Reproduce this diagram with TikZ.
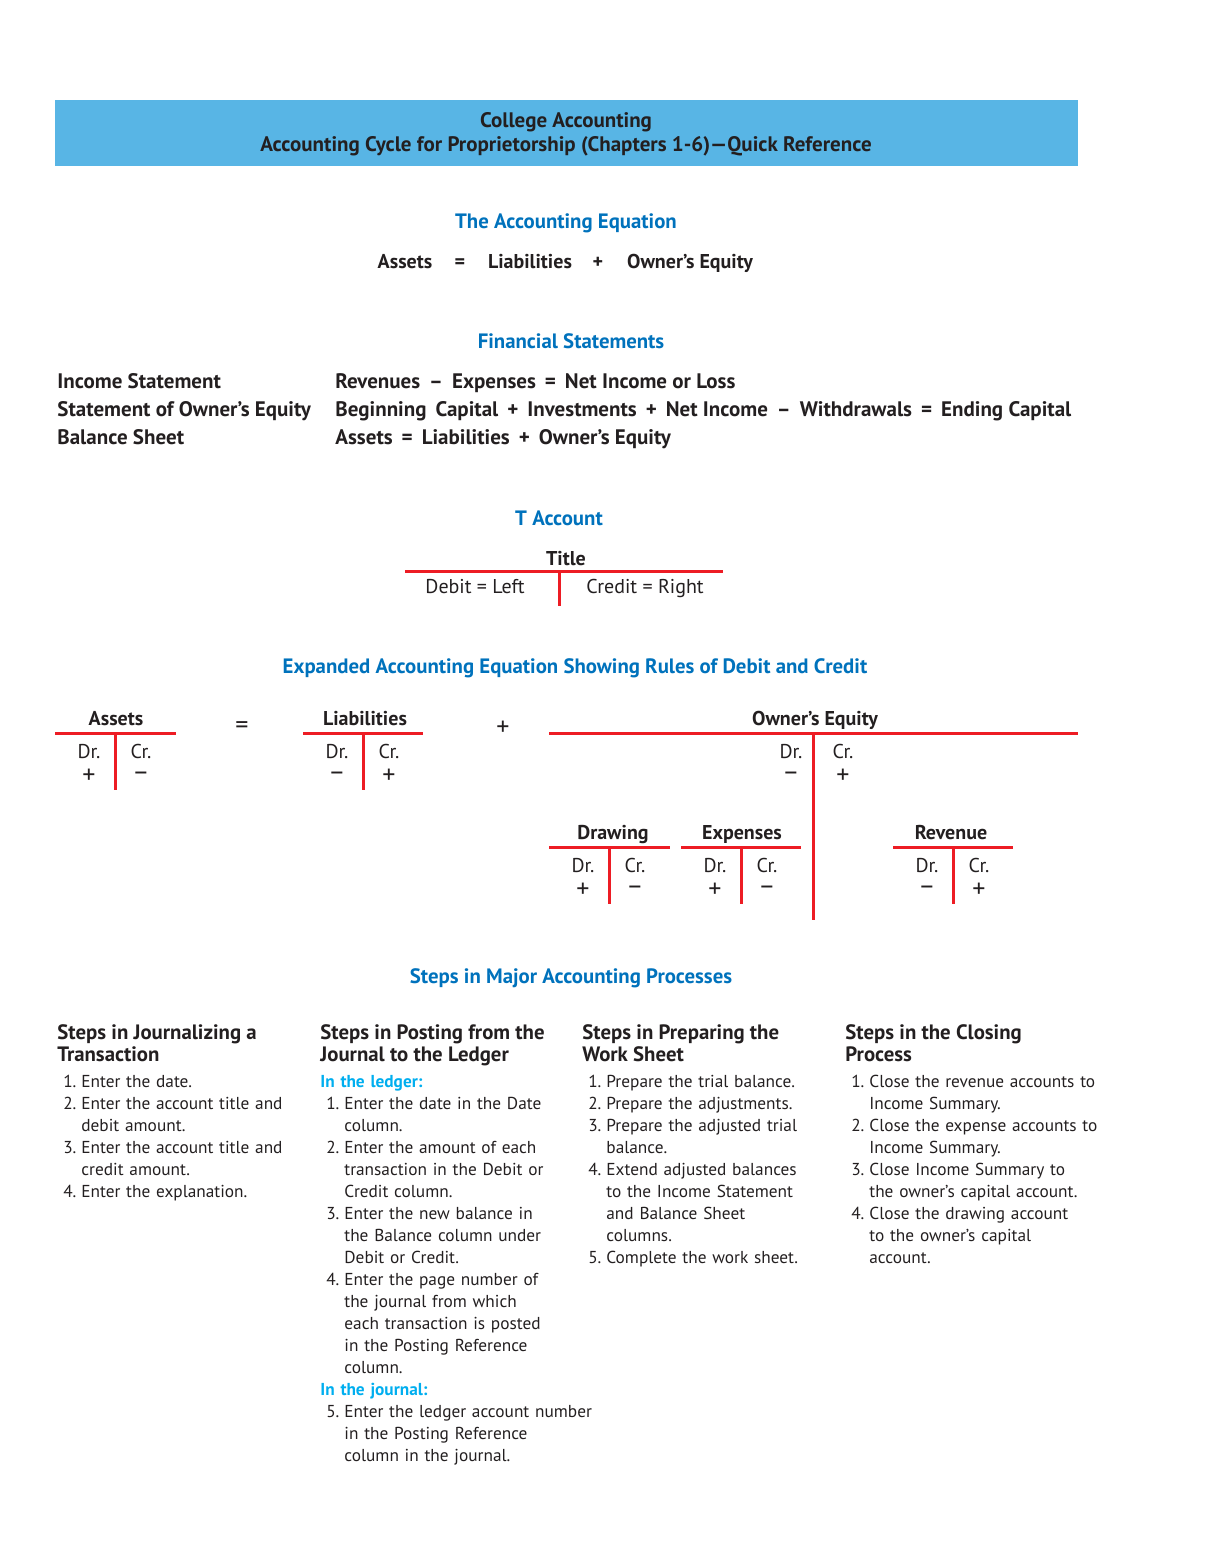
\documentclass[tikz,border=0pt]{standalone}
\usepackage{fontspec}
\setmainfont{PT Sans}
\usepackage{tikz}
\usepackage{xcolor}

\definecolor{bannerblue}{RGB}{88,181,229}
\definecolor{headblue}{RGB}{0,114,188}
\definecolor{ledgercyan}{RGB}{0,174,239}
\definecolor{tred}{RGB}{237,28,36}
\definecolor{ink}{RGB}{35,31,32}

% one numbered step, hanging indent for the wrapped lines
\newcommand{\stepitem}[2]{\hangindent=12pt\hangafter=1\noindent\hbox to 9.5pt{\hfil#1}\hspace{2.5pt}#2\par}
\newcommand{\stepnote}[1]{\noindent{\bfseries\color{ledgercyan}#1}\par}
% operator with space round it
\newcommand{\fop}[1]{\hspace{4.5pt}#1\hspace{4.5pt}}

\begin{document}
\begin{tikzpicture}[
    x=0.5pt, y=-0.5pt,
    every node/.style={inner sep=0pt, text=ink},
    banner/.style={font=\fontsize{10.5}{12}\selectfont\bfseries, anchor=base},
    bluehead/.style={font=\fontsize{10.4}{12}\selectfont\bfseries, text=headblue, anchor=base},
    eqn/.style={font=\fontsize{10}{12}\selectfont\bfseries, anchor=base},
    rowlabel/.style={font=\fontsize{10.5}{12}\selectfont\bfseries, anchor=base west},
    ttitle/.style={font=\fontsize{10}{12}\selectfont\bfseries, anchor=base},
    tside/.style={font=\fontsize{10}{12}\selectfont, anchor=base},
    tsign/.style={font=\fontsize{13}{14}\selectfont},
    tline/.style={draw=tred, line width=1.5pt},
    stephead/.style={font=\fontsize{10.4}{11}\selectfont\bfseries, anchor=base west, align=left},
    steplist/.style={font=\fontsize{8.65}{11}\selectfont, anchor=base west, text width=170pt},
]
\useasboundingbox (0,0) rectangle (1224,1566);

% Banner
\fill[bannerblue] (55,100) rectangle (1078,166);
\node[banner] (bannerA) at (566,128) {College Accounting};
\node[banner] (bannerB) at (566,152) {Accounting Cycle for Proprietorship (Chapters 1-6)—Quick Reference};

% The accounting equation
\node[bluehead] (eqhead) at (566,229) {The Accounting Equation};
\node[eqn] (eqA) at (405,269) {Assets};
\node[eqn] (eqeq) at (460,269) {=};
\node[eqn] (eqL) at (530,269) {Liabilities};
\node[eqn] (eqplus) at (598,269) {+};
\node[eqn] (eqOE) at (690,269) {Owner’s Equity};

% Financial statements
\node[bluehead] (fshead) at (571,349) {Financial Statements};
\node[rowlabel] (isL) at (57,389) {Income Statement};
\node[rowlabel] (oeL) at (57,417) {Statement of Owner’s Equity};
\node[rowlabel] (bsL) at (57,445) {Balance Sheet};
\node[rowlabel] (isF) at (335,389) {Revenues\fop{–}Expenses\fop{=}Net Income or Loss};
\node[rowlabel] (oeF) at (335,417) {Beginning\hspace{4.5pt}Capital\fop{+}Investments\fop{+}Net Income\fop{–}Withdrawals\fop{=}Ending Capital};
\node[rowlabel] (bsF) at (335,445) {Assets\fop{=}Liabilities\fop{+}Owner’s Equity};

% T account
\node[bluehead] (thead) at (559,525) {T Account};
\node[ttitle] (ttitle) at (566,565) {Title};
\draw[tline] (405,571) -- (723,571);
\draw[tline] (559,571) -- (559,606);
\node[tside] (tdebit) at (475,593) {Debit = Left};
\node[tside] (tcredit) at (645,593) {Credit = Right};

% Expanded accounting equation
\node[bluehead] (exhead) at (575,673) {Expanded Accounting Equation Showing Rules of Debit and Credit};

% Assets
\node[ttitle] (assets) at (116,725) {Assets};
\draw[tline] (55,733) -- (176,733);
\draw[tline] (115,733) -- (115,790);
\node[tside] at (89,758) {Dr.};
\node[tside] at (141,758) {Cr.};
\node[tsign] at (89,776) {+};
\node[tsign] at (141,776) {–};

\node[tsign] (expeq) at (242,728) {=};

% Liabilities
\node[ttitle] (liab) at (365,725) {Liabilities};
\draw[tline] (303,733) -- (423,733);
\draw[tline] (363,733) -- (363,790);
\node[tside] at (337,758) {Dr.};
\node[tside] at (389,758) {Cr.};
\node[tsign] at (337,776) {–};
\node[tsign] at (389,776) {+};

\node[tsign] (expplus) at (503,728) {+};

% Owner's equity
\node[ttitle] (owner) at (815,725) {Owner’s Equity};
\draw[tline] (549,733) -- (1078,733);
\draw[tline] (813,733) -- (813,920);
\node[tside] at (791,758) {Dr.};
\node[tside] at (843,758) {Cr.};
\node[tsign] at (791,776) {–};
\node[tsign] at (843,776) {+};

% Drawing
\node[ttitle] (drawing) at (613,839) {Drawing};
\draw[tline] (549,847) -- (670,847);
\draw[tline] (609,847) -- (609,904);
\node[tside] at (583,872) {Dr.};
\node[tside] at (635,872) {Cr.};
\node[tsign] at (583,890) {+};
\node[tsign] at (635,890) {–};

% Expenses
\node[ttitle] (expenses) at (742,839) {Expenses};
\draw[tline] (681,847) -- (801,847);
\draw[tline] (741,847) -- (741,904);
\node[tside] at (715,872) {Dr.};
\node[tside] at (767,872) {Cr.};
\node[tsign] at (715,890) {+};
\node[tsign] at (767,890) {–};

% Revenue
\node[ttitle] (revenue) at (951,839) {Revenue};
\draw[tline] (893,847) -- (1013,847);
\draw[tline] (953,847) -- (953,904);
\node[tside] at (927,872) {Dr.};
\node[tside] at (979,872) {Cr.};
\node[tsign] at (927,890) {–};
\node[tsign] at (979,890) {+};

% Steps in major accounting processes
\node[bluehead] (stephead) at (571,983) {Steps in Major Accounting Processes};

\node[stephead] (jourH) at (57,1061) {Steps in Journalizing a\\Transaction};
\node[steplist] (jourL) at (57,1087) {%
  \stepitem{1.}{Enter the date.}%
  \stepitem{2.}{Enter the account title and\newline debit amount.}%
  \stepitem{3.}{Enter the account title and\newline credit amount.}%
  \stepitem{4.}{Enter the explanation.}};

\node[stephead] (postH) at (320,1061) {Steps in Posting from the\\Journal to the Ledger};
\node[steplist] (postL) at (320,1087) {%
  \stepnote{In the ledger:}%
  \stepitem{1.}{Enter the date in the Date\newline column.}%
  \stepitem{2.}{Enter the amount of each\newline transaction in the Debit or\newline Credit column.}%
  \stepitem{3.}{Enter the new balance in\newline the Balance column under\newline Debit or Credit.}%
  \stepitem{4.}{Enter the page number of\newline the journal from which\newline each transaction is posted\newline in the Posting Reference\newline column.}%
  \stepnote{In the journal:}%
  \stepitem{5.}{Enter the ledger account number\newline in the Posting Reference\newline column in the journal.}};

\node[stephead] (workH) at (582,1061) {Steps in Preparing the\\Work Sheet};
\node[steplist] (workL) at (582,1087) {%
  \stepitem{1.}{Prepare the trial balance.}%
  \stepitem{2.}{Prepare the adjustments.}%
  \stepitem{3.}{Prepare the adjusted trial\newline balance.}%
  \stepitem{4.}{Extend adjusted balances\newline to the Income Statement\newline and Balance Sheet\newline columns.}%
  \stepitem{5.}{Complete the work sheet.}};

\node[stephead] (closeH) at (845,1061) {Steps in the Closing\\Process};
\node[steplist] (closeL) at (845,1087) {%
  \stepitem{1.}{Close the revenue accounts to\newline Income Summary.}%
  \stepitem{2.}{Close the expense accounts to\newline Income Summary.}%
  \stepitem{3.}{Close Income Summary to\newline the owner’s capital account.}%
  \stepitem{4.}{Close the drawing account\newline to the owner’s capital\newline account.}};

\end{tikzpicture}
\end{document}
